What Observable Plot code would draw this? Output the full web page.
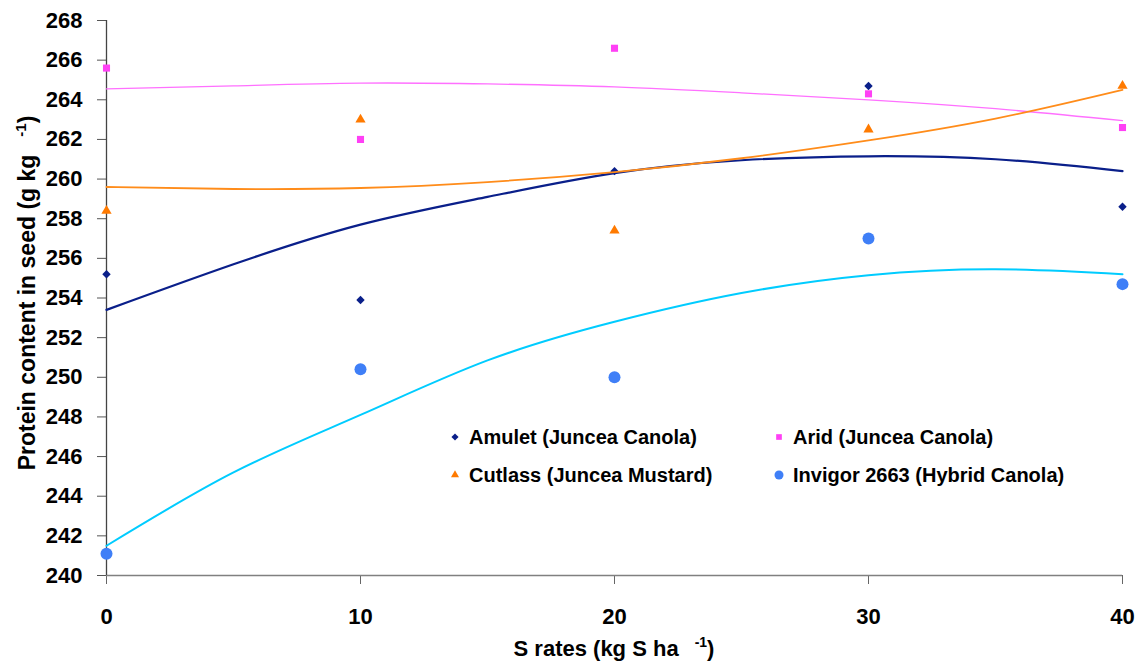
<!DOCTYPE html>
<html><head><meta charset="utf-8">
<script src="https://cdn.jsdelivr.net/npm/d3@7"></script>
<script src="https://cdn.jsdelivr.net/npm/@observablehq/plot@0.6"></script>
<style>
body{margin:0;background:#fff;}
#chart svg{display:block;}
</style>
</head><body><div id="chart"></div>
<script>
// S rates (kg S/ha) at which protein was measured
const rates = [0, 10, 20, 30, 40];
// Observed protein content (g/kg)
const amulet  = [255.2, 253.9, 260.4, 264.7, 258.6];
const arid    = [265.6, 262.0, 266.6, 264.3, 262.6];
const cutlass = [258.4, 263.0, 257.4, 262.5, 264.7];
const invigor = [241.1, 250.4, 250.0, 257.0, 254.7];

// Trend lines
const trendRates   = [0, 5, 10, 15, 20, 25, 30, 35, 40];
const amuletTrend  = [253.4, 255.7, 257.7, 259.1, 260.3, 260.95, 261.15, 261.0, 260.4];
const aridTrend    = [264.55, 264.7, 264.84, 264.8, 264.65, 264.35, 264.0, 263.55, 262.95];
const cutlassTrend = [259.6, 259.5, 259.55, 259.85, 260.35, 261.05, 261.95, 263.05, 264.5];
const invigorTrend = [241.5, 245.2, 248.1, 250.85, 252.8, 254.25, 255.15, 255.45, 255.2];

const seriesNames = ["Amulet (Juncea Canola)", "Arid (Juncea Canola)", "Cutlass (Juncea Mustard)", "Invigor 2663 (Hybrid Canola)"];
const xTicks = [0, 10, 20, 30, 40];
const yTicks = [240, 242, 244, 246, 248, 250, 252, 254, 256, 258, 260, 262, 264, 266, 268];

const styles = [
  {values: amulet,  trend: amuletTrend,  symbol: "diamond2", fill: "#0a1f8a", r: 3.8, line: "#0a1f8a", lw: 2.2, legendR: 3.2},
  {values: arid,    trend: aridTrend,    symbol: "square",   fill: "#ff40f5", r: 4,   line: "#ff70ff", lw: 1.3, legendR: 3.2},
  {values: cutlass, trend: cutlassTrend, symbol: "triangle", fill: "#ff7a00", r: 3.8, line: "#ff8c1a", lw: 1.8, legendR: 3.0},
  {values: invigor, trend: invigorTrend, symbol: "circle",   fill: "#3f7ff7", r: 6,   line: "#00ccff", lw: 2.0, legendR: 4.5}
];

const marks = [];
styles.forEach((s, i) => {
  const pts = rates.map((x, j) => ({x, y: s.values[j], series: seriesNames[i]}));
  const tr = trendRates.map((x, j) => ({x, y: s.trend[j]}));
  marks.push(Plot.line(tr, {x: "x", y: "y", stroke: s.line, strokeWidth: s.lw, curve: "natural"}));
  marks.push(Plot.dot(pts, {x: "x", y: "y", symbol: () => s.symbol, fill: s.fill, stroke: "none", r: s.r}));
});

const chart = Plot.plot({
  width: 1141,
  height: 661,
  marginLeft: 106,
  marginRight: 19,
  marginTop: 20,
  marginBottom: 86,
  style: {fontFamily: "'Liberation Sans', Arial, sans-serif", fontSize: "22px", fontWeight: "bold", color: "#000", background: "#fff"},
  x: {domain: [0, 40]},
  y: {domain: [240, 268]},
  symbol: {type: "identity"},
  marks: [
    Plot.axisX({ticks: xTicks, tickSize: 9, tickPadding: 24, stroke: "#666", fill: "#000", fontSize: 22, fontWeight: "bold", label: null, tickFormat: d => String(d)}),
    Plot.axisY({ticks: yTicks, tickSize: 9, tickPadding: 15, stroke: "#555", fill: "#000", fontSize: 22, fontWeight: "bold", label: null, tickFormat: d => String(d)}),
    Plot.ruleY([240], {stroke: "#808080", strokeWidth: 1.6}),
    Plot.ruleX([0], {stroke: "#444", strokeWidth: 1.3}),
    ...marks
  ]
});

document.getElementById("chart").appendChild(chart);

const svg = d3.select(chart);
const font = "'Liberation Sans', Arial, sans-serif";

// X axis title
const xt = svg.append("text")
  .attr("x", 614).attr("y", 656)
  .attr("text-anchor", "middle")
  .attr("font-family", font).attr("font-size", 22).attr("font-weight", "bold").attr("fill", "#000");
xt.append("tspan").text("S rates (kg S ha");
xt.append("tspan").attr("dx", 16).attr("dy", -9).attr("font-size", 14).text("-1");
xt.append("tspan").attr("dy", 9).text(")");

// Y axis title
const yt = svg.append("text")
  .attr("transform", "translate(35,293) rotate(-90)")
  .attr("text-anchor", "middle")
  .attr("font-family", font).attr("font-size", 23).attr("font-weight", "bold").attr("fill", "#000");
yt.append("tspan").text("Protein content in seed (g kg");
yt.append("tspan").attr("dx", 18).attr("dy", -9).attr("font-size", 15).text("-1");
yt.append("tspan").attr("dy", 9).text(")");

// Legend
const legendPos = [[455, 437], [779, 437], [455, 475], [779, 475]];
const symMap = {diamond2: d3.symbolDiamond2, square: d3.symbolSquare, triangle: d3.symbolTriangle, circle: d3.symbolCircle};
const lg = svg.append("g").attr("text-anchor", "start");
styles.forEach((s, i) => {
  const [lx, ly] = legendPos[i];
  lg.append("path")
    .attr("transform", `translate(${lx},${ly})`)
    .attr("d", d3.symbol(symMap[s.symbol], Math.PI * s.legendR * s.legendR)())
    .attr("fill", s.fill);
  lg.append("text")
    .attr("x", lx + 14).attr("y", ly)
    .attr("dy", "0.35em")
    .attr("text-anchor", "start")
    .attr("font-family", font).attr("font-size", 20).attr("font-weight", "bold").attr("fill", "#000")
    .text(seriesNames[i]);
});
</script>
</body></html>
